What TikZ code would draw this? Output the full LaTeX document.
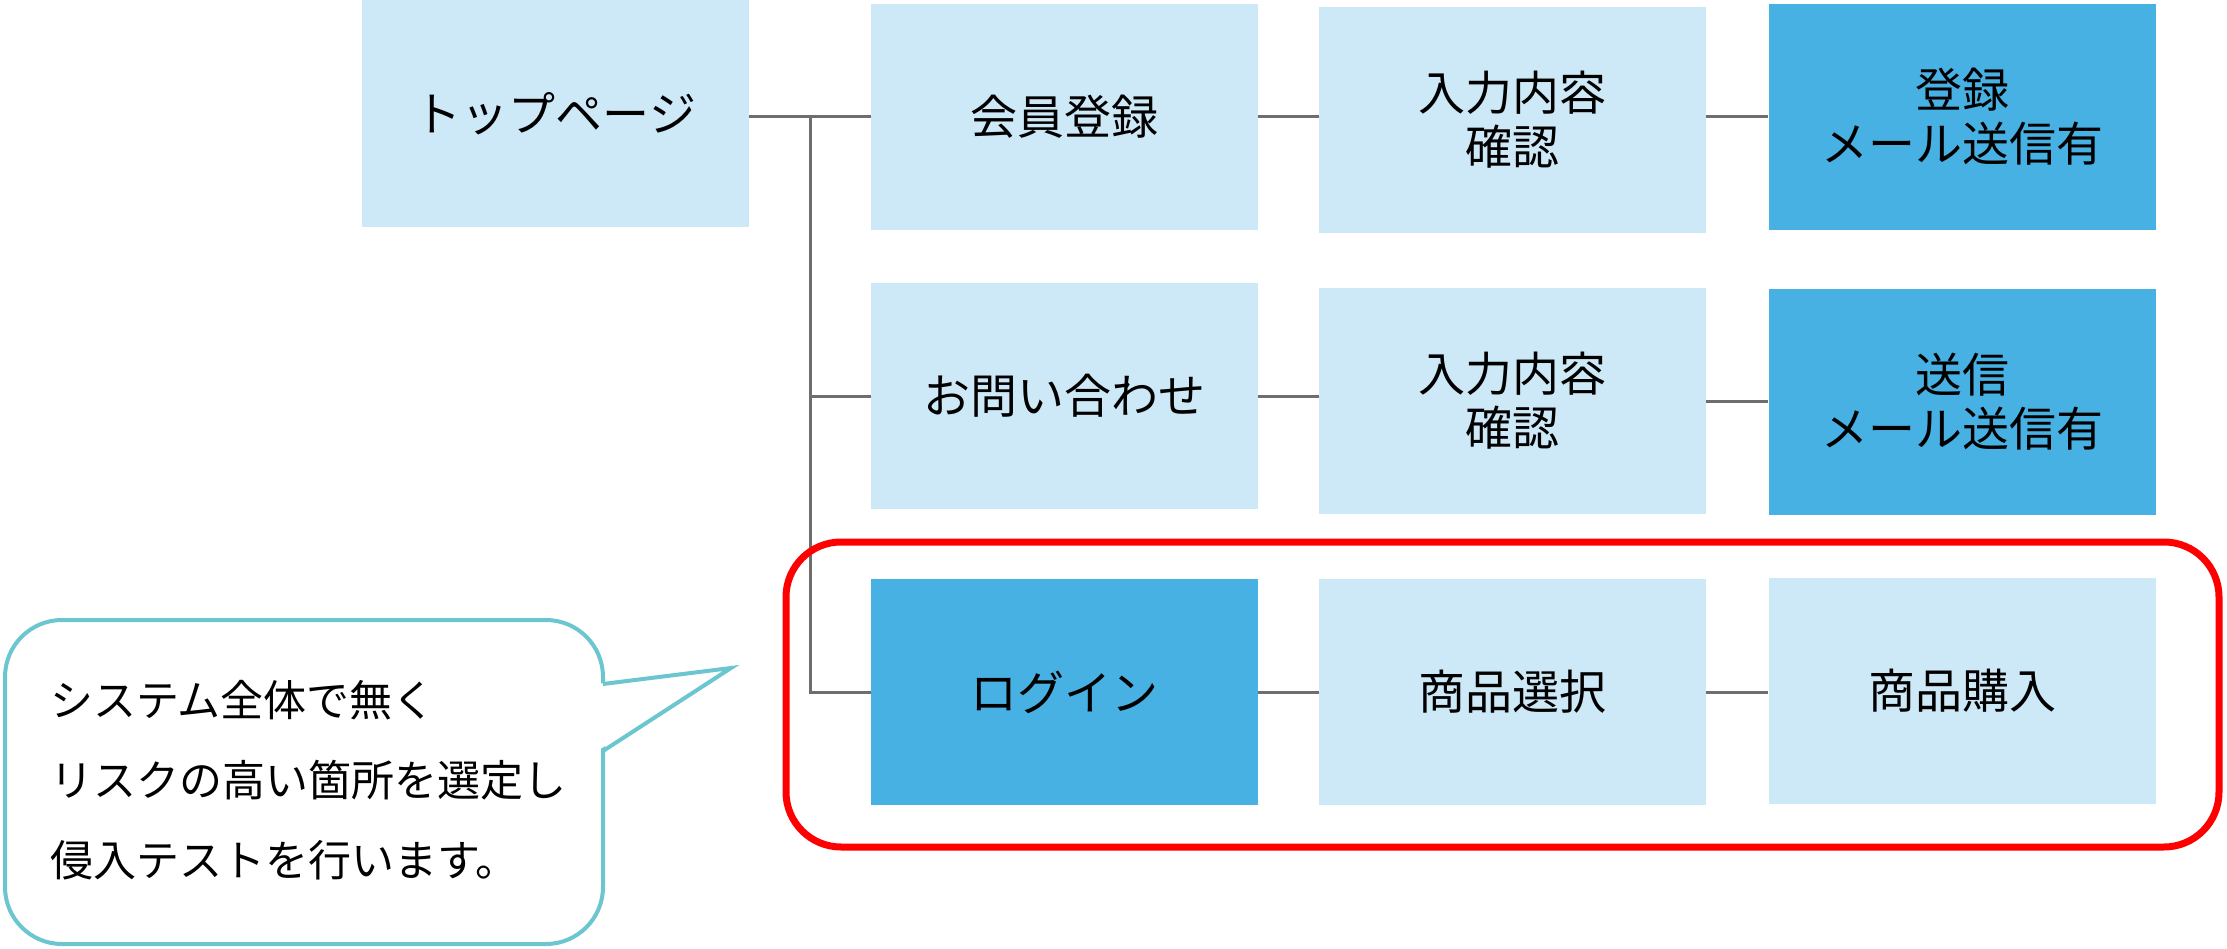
\documentclass[tikz,border=0pt]{standalone}
\usepackage{fontspec}
\setmainfont{Noto Sans CJK JP}
\definecolor{lightb}{HTML}{CDE8F6}
\definecolor{darkb}{HTML}{48B1E4}
\definecolor{conngray}{HTML}{6E6E6E}
\definecolor{calloutc}{HTML}{6CC6CF}
\begin{document}
\begin{tikzpicture}[x=1pt,y=-1pt,
  box/.style={fill=lightb, minimum width=387pt, minimum height=226pt, inner sep=0pt, align=center, font=\fontsize{47}{54}\selectfont},
  dbox/.style={box, fill=darkb},
  conn/.style={draw=conngray, line width=3pt},
]
\useasboundingbox (0,0) rectangle (2227,949);
% nodes
\node[box, minimum height=227pt] (top) at (555.5,113.5) {トップページ};
\node[box] (kaiin) at (1064.5,117) {会員登録};
\node[box] (kak1) at (1512.5,120) {入力内容\\確認};
\node[dbox] (mail1) at (1962,117) {登録\\メール送信有};
\node[box] (toi) at (1064.5,396) {お問い合わせ};
\node[box] (kak2) at (1512.5,401) {入力内容\\確認};
\node[dbox] (mail2) at (1962,402) {送信\\メール送信有};
\node[dbox] (login) at (1064.5,692) {ログイン};
\node[box] (sel) at (1512.5,692) {商品選択};
\node[box] (buy) at (1962,691) {商品購入};
% connectors
\coordinate (j) at (810,117);
\draw[conn] (top.east |- kaiin.west) -- (kaiin.west);
\draw[conn] (j) -- (j |- login.west) -- (login.west);
\draw[conn] (j |- toi.west) -- (toi.west);
\draw[conn] (kaiin.east) -- (kaiin.east -| kak1.west);
\draw[conn] (kak1.east |- mail1.west) -- (mail1.west);
\draw[conn] (toi.east) -- (toi.east -| kak2.west);
\draw[conn] (kak2.east) -- (kak2.east -| mail2.west);
\draw[conn] (login.east) -- (sel.west);
\draw[conn] (sel.east) -- (sel.east -| buy.west);
% red highlight
\draw[red, line width=7pt, rounded corners=55pt] (786,542) rectangle (2219,847);
% callout
\draw[calloutc, line width=4pt, fill=white, rounded corners=57pt] (5,620) rectangle (603,944);
\fill[white] (597,684) -- (731,668) -- (597,751) -- cycle;
\draw[calloutc, line width=4pt] (603,684) -- (731,668) -- (603,751);
\node[anchor=west, align=left, inner sep=0pt, font=\fontsize{43}{80}\selectfont] (note) at (50,780) {システム全体で無く\\リスクの高い箇所を選定し\\侵入テストを行います。};
\end{tikzpicture}
\end{document}
